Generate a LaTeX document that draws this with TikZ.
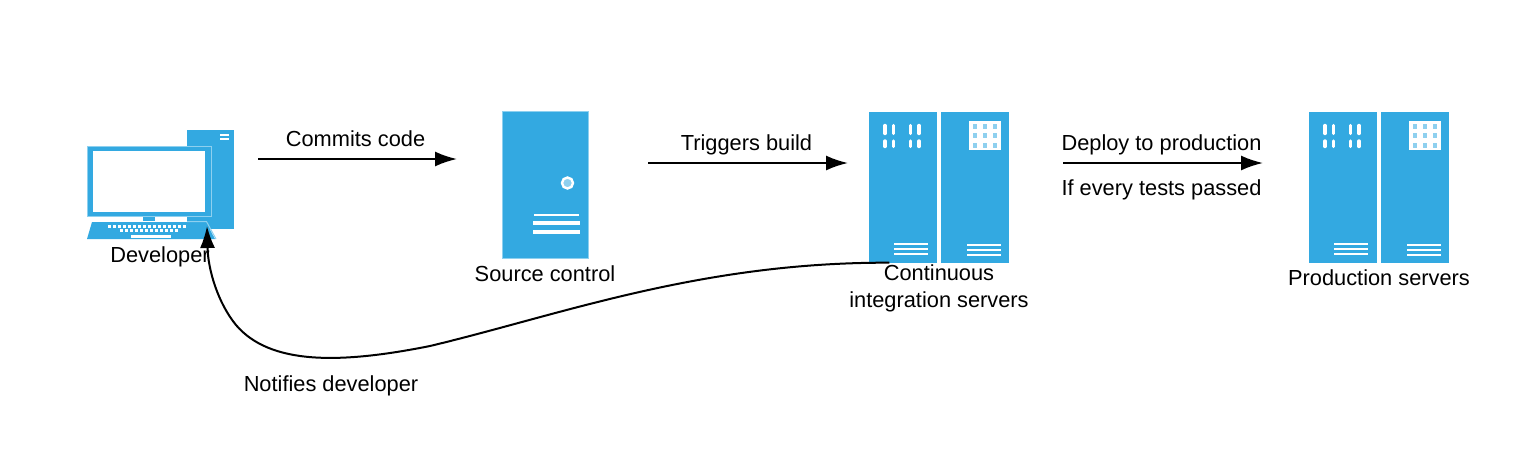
\documentclass[tikz,border=0pt]{standalone}
\usepackage{fontspec}
\setmainfont{Liberation Sans}
\usetikzlibrary{arrows.meta}
\definecolor{iconblue}{HTML}{33A9E1}
\definecolor{iconpale}{HTML}{8ED0EF}
\tikzset{
  flow/.style={line width=2pt,-{Latex[length=22pt,width=15pt]}},
  caption/.style={font=\fontsize{21.8}{27}\selectfont,inner sep=0pt,align=center},
  iconbox/.style={fill=iconblue,draw=iconpale,line width=0.5pt,inner sep=0pt}
}
% one pair of server cabinets, origin at the top left corner
\newcommand{\serverpair}[1]{%
  \fill[iconblue] (0,0) rectangle (68,#1);
  \fill[iconblue] (72,0) rectangle (140.5,#1);
  \foreach \x in {16.5,25.2,42.2,50.5} {
    \draw[white,line width=3.4pt,line cap=round] (\x,14) -- (\x,22);
    \draw[white,line width=3.4pt,line cap=round] (\x,29.5) -- (\x,35);
  }
  \fill[white] (100.8,9.5) rectangle (132.2,38);
  \foreach \x in {106.5,116.5,126.5}
    \foreach \y in {14.5,24,33.5}
      \fill[iconpale] (\x-2,\y-2.5) rectangle (\x+2,\y+2.5);
  \foreach \y in {132.5,137.5,142.5} {
    \draw[white,line width=2.3pt] (25.5,\y) -- (59,\y);
    \draw[white,line width=2.3pt] (98.8,\y+1) -- (132.8,\y+1);
  }
}
\begin{document}
\begin{tikzpicture}[x=1pt,y=-1pt]
\useasboundingbox (0,0) rectangle (1514,464);

% developer workstation
\fill[iconblue] (187,130) rectangle (234,229);
\draw[white,line width=1.5pt] (220,135) -- (229,135);
\draw[white,line width=1.5pt] (220,139) -- (229,139);
\fill[iconblue,draw=iconpale,line width=1pt] (87.5,146) rectangle (211,216);
\fill[white] (93,151) rectangle (205,212);
\fill[iconblue] (143,217) rectangle (155,221);
\fill[white] (155,217) rectangle (187,229);
\fill[iconblue] (187,217) rectangle (208,221);
\fill[iconblue] (92,222) -- (206,222) -- (215,239) -- (87,239) -- cycle;
\draw[iconpale,line width=1pt] (187,221.5) -- (206.5,221.5) -- (216,239);
\foreach \x in {109,114,...,187}
  \fill[white] (\x-1.5,225) rectangle (\x+1.5,227.5);
\foreach \x in {121,126,...,176}
  \fill[white] (\x-1.5,229) rectangle (\x+1.5,231.5);
\fill[white] (131,235) rectangle (171,238);
\node[inner sep=0pt,minimum width=147pt,minimum height=109pt] (dev) at (160.5,184.5) {};
\node[caption] (devtext) at (160,257) {Developer};

% source control
\node[iconbox,minimum width=86pt,minimum height=147pt] (source) at (545,184.5) {};
\fill[iconpale,draw=white,line width=2.4pt] (567.5,183) circle (5.5);
\draw[white,line width=2.6pt] (534,215) -- (579,215);
\draw[white,line width=3.6pt] (533,223) -- (580,223);
\draw[white,line width=3.6pt] (533,232) -- (580,232);
\node[caption] (sourcetext) at (545,274) {Source control};

% continuous integration
\begin{scope}[shift={(868.5,111.5)}]
\serverpair{151}
\end{scope}
\node[inner sep=0pt,minimum width=140.5pt,minimum height=151pt] (ci) at (938.75,187) {};
\node[caption] (citext) at (939,288.5) {Continuous\\integration servers};

% production
\begin{scope}[shift={(1308.5,111.5)}]
\serverpair{151}
\end{scope}
\node[inner sep=0pt,minimum width=140.5pt,minimum height=151pt] (prod) at (1378.75,187) {};
\node[caption] (prodtext) at (1379,278) {Production servers};

% connectors
\coordinate (commitfrom) at (258,159);
\coordinate (committo) at (457,159);
\coordinate (triggerfrom) at (648,163);
\coordinate (triggerto) at (848,163);
\coordinate (deployfrom) at (1063,163);
\coordinate (deployto) at (1263,163);
\coordinate (notifyfrom) at (ci.south west);
\coordinate (notifyto) at (207,226);
\draw[flow] (commitfrom) -- (committo);
\draw[flow] (triggerfrom) -- (triggerto);
\draw[flow] (deployfrom) -- (deployto);
\draw[flow] (notifyfrom) ++(21,0) .. controls (700,262) and (560,315) .. (430,346)
  .. controls (340,364) and (270,365) .. (236,325)
  .. controls (218,303) and (208,270) .. (notifyto);

\node[caption] (commitlabel) at (355.5,139) {Commits code};
\node[caption] (triggerlabel) at (746.5,144.5) {Triggers build};
\node[caption] (deploylabel) at (1161.5,144.5) {Deploy to production};
\node[caption] (iflabel) at (1161.5,189.5) {If every tests passed};
\node[caption] (notifylabel) at (331,385.5) {Notifies developer};
\end{tikzpicture}
\end{document}
